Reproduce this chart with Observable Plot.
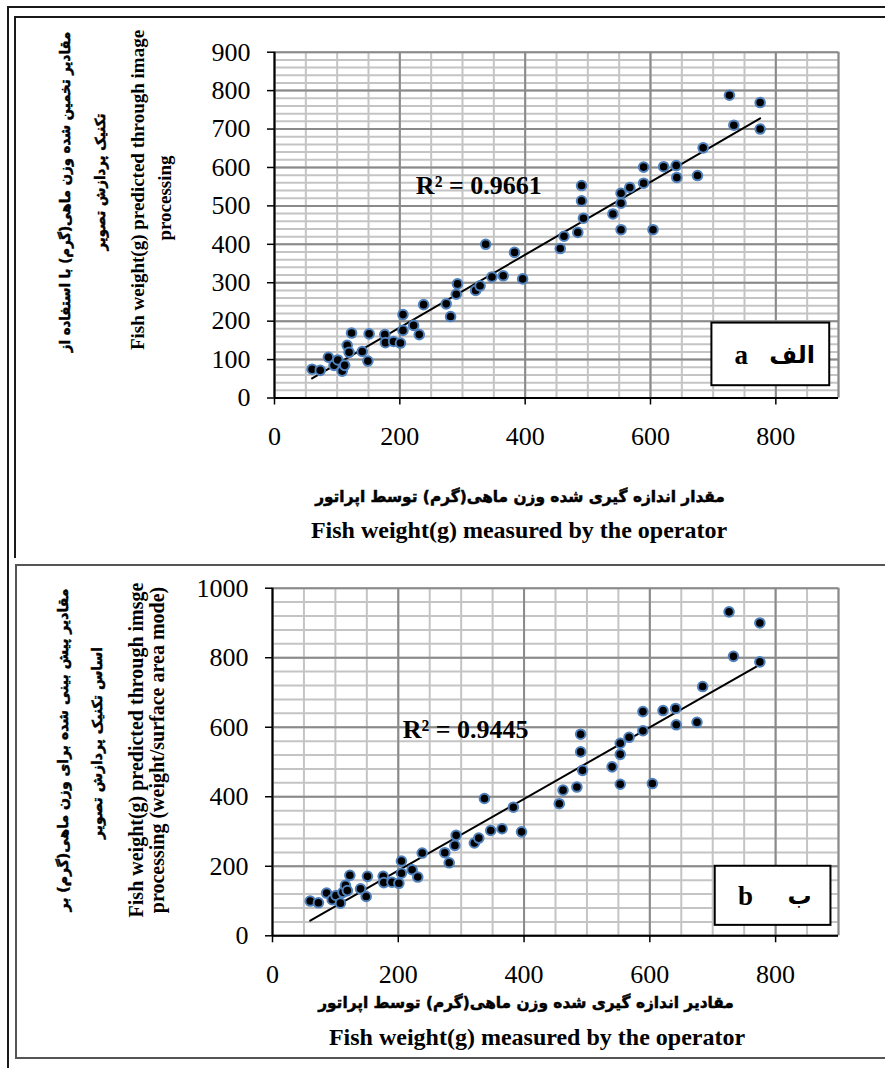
<!DOCTYPE html>
<html><head><meta charset="utf-8">
<script src="https://cdn.jsdelivr.net/npm/d3@7"></script>
<script src="https://cdn.jsdelivr.net/npm/@observablehq/plot@0.6"></script>
<style>
html,body{margin:0;padding:0;background:#fff;}
#page{position:relative;width:885px;height:1068px;overflow:hidden;background:#fff;font-family:"Liberation Serif","Times New Roman",serif;}
.ln{position:absolute;background:#1a1a1a;}
.t{position:absolute;white-space:nowrap;font-weight:bold;color:#000;line-height:1;}
.fa{font-family:"DejaVu Sans",sans-serif;direction:rtl;-webkit-text-stroke:0.5px #000;}
.en{font-family:"Liberation Serif","Times New Roman",serif;}
.chart{position:absolute;left:0;}
</style></head><body><div id="page"></div>
<script>
// ---- data ----
const weightMeasured = [60,73,86,95,101,108,112,116,119,123,140,149,151,176,177,190,201,205,205,222,231,238,274,281,290,292,321,328,337,347,365,383,396,456,462,484,490,490,493,540,553,553,553,567,589,589,604,621,641,642,675,684,726,733,775,775];
const predictedImage = [75,72,106,85,99,70,85,137,119,169,121,96,167,165,144,147,143,217,176,189,165,243,245,212,270,297,280,292,400,315,318,379,310,389,421,431,553,513,468,479,438,507,533,548,559,601,438,602,605,574,579,651,788,710,769,700];
const predictedArea = [100,95,123,104,116,94,125,145,130,174,135,113,171,171,153,154,151,215,180,190,169,238,239,210,260,289,267,281,395,303,308,370,299,380,419,428,580,529,476,486,436,522,554,571,590,645,438,648,654,607,614,717,932,804,900,788];

const xTicks = [0,200,400,600,800];
const yTicksTop = [0,100,200,300,400,500,600,700,800,900];
const yTicksBottom = [0,200,400,600,800,1000];

const r2Labels = ["R² = 0.9661", "R² = 0.9445"];
const panelLatin = ["a", "b"];
const panelPersian = ["الف", "ب"];

const SERIF = "Liberation Serif, serif";

// ---- builder ----
function chart({data, yMax, yTicks, yMinorStep, marginLeft, marginTop, height, marginBottom, r2, r2x, r2y, box, lat, latX, per, perX, boxY}) {
  const xMinor = d3.range(0, 901, 50);
  const yMinor = d3.range(0, yMax + 1, yMinorStep);
  return Plot.plot({
    width: 885, height, marginLeft, marginRight: 47, marginTop, marginBottom,
    x: {domain: [0, 900]},
    y: {domain: [0, yMax]},
    style: {fontFamily: SERIF, fontSize: "26px", background: "transparent", color: "black", overflow: "visible"},
    marks: [
      Plot.gridX(xMinor, {stroke: "#c4c4c4", strokeOpacity: 1, strokeWidth: 2}),
      Plot.gridY(yMinor, {stroke: "#c4c4c4", strokeOpacity: 1, strokeWidth: 2}),
      Plot.gridX(xTicks.concat([900]), {stroke: "#8a8a8a", strokeOpacity: 1, strokeWidth: 2}),
      Plot.gridY(yTicks, {stroke: "#8a8a8a", strokeOpacity: 1, strokeWidth: 2}),
      Plot.ruleX([0], {stroke: "black", strokeWidth: 2}),
      Plot.ruleY([0], {stroke: "black", strokeWidth: 2}),
      Plot.axisX({ticks: xTicks, tickSize: 7, label: null, strokeWidth: 1.5, tickFormat: () => ""}),
      Plot.axisY({ticks: yTicks, tickSize: 7, label: null, strokeWidth: 1.5, tickFormat: () => ""}),
      Plot.text(xTicks, {x: d => d, frameAnchor: "bottom", lineAnchor: "top", dy: 29, text: d => String(d), fontSize: 26, fontFamily: SERIF, fill: "black"}),
      Plot.text(yTicks, {y: d => d, frameAnchor: "left", textAnchor: "end", dx: -24, text: d => String(d), fontSize: 26, fontFamily: SERIF, fill: "black"}),
      Plot.rect([box], {x1: "x1", x2: "x2", y1: "y1", y2: "y2", fill: "white", stroke: "black", strokeWidth: 2}),
      Plot.text([lat], {x: () => latX, y: () => boxY, text: d => d, fontSize: 27, fontWeight: "bold", fontFamily: SERIF}),
      Plot.text([per], {x: () => perX, y: () => boxY, text: d => d, fontSize: 24, fontWeight: "bold", fontFamily: "DejaVu Sans, sans-serif"}),
      Plot.linearRegressionY(data, {x: "w", y: "p", ci: 0, stroke: "black", strokeWidth: 2}),
      Plot.dot(data, {x: "w", y: "p", r: 4.8, fill: "black", stroke: "#4f81bd", strokeWidth: 2}),
      Plot.text([r2], {x: () => r2x, y: () => r2y, text: d => d, fontSize: 26, fontWeight: "bold", fontFamily: SERIF})
    ]
  });
}

const page = document.getElementById("page");

const topData = weightMeasured.map((w, i) => ({w, p: predictedImage[i]}));
const botData = weightMeasured.map((w, i) => ({w, p: predictedArea[i]}));

const c1 = chart({data: topData, yMax: 900, yTicks: yTicksTop, yMinorStep: 20,
  marginLeft: 274, marginTop: 51.7, height: 470, marginBottom: 72.5,
  r2: r2Labels[0], r2x: 326, r2y: 552,
  box: {x1: 698, x2: 886, y1: 32, y2: 195}, lat: panelLatin[0], latX: 745, per: panelPersian[0], perX: 826, boxY: 112});
c1.classList.add("chart"); c1.style.top = "0px";
page.appendChild(c1);

const c2 = chart({data: botData, yMax: 1000, yTicks: yTicksBottom, yMinorStep: 40,
  marginLeft: 272, marginTop: 47.7, height: 480, marginBottom: 84.7,
  r2: r2Labels[1], r2x: 307, r2y: 594,
  box: {x1: 704, x2: 888, y1: 30, y2: 200}, lat: panelLatin[1], latX: 752, per: panelPersian[1], perX: 838, boxY: 114});
c2.classList.add("chart"); c2.style.top = "540px";
page.appendChild(c2);

// ---- frames ----
function line(l, t, w, h, c) {
  const d = document.createElement("div"); d.className = "ln";
  Object.assign(d.style, {left: l + "px", top: t + "px", width: w + "px", height: h + "px"});
  if (c) d.style.background = c;
  page.appendChild(d);
}
line(7, 6, 2, 1062);          // outer left
line(7, 6, 880, 2);           // outer top
line(14, 16, 1.5, 542);       // top panel inner left
line(14, 16, 875, 1.5);       // top panel inner top
line(15, 564, 870, 1.5, "#555"); // bottom panel top
line(15, 564, 1.5, 494, "#555"); // bottom panel left
line(15, 1057, 870, 1.5, "#555"); // bottom panel bottom

// ---- titles ----
function text(str, cls, x, y, size, rot, sx) {
  const d = document.createElement("div"); d.className = "t " + cls;
  d.textContent = str;
  Object.assign(d.style, {left: x + "px", top: y + "px", fontSize: size + "px",
    transform: "translate(-50%,-50%)" + (rot ? " rotate(-90deg)" : "") + " scaleX(" + (sx || 1) + ")"});
  page.appendChild(d);
}
text("مقادیر تخمین شده وزن ماهی(گرم) با استفاده از", "fa", 65, 192, 14, true, 0.95);
text("تکنیک پردازش تصویر", "fa", 100, 182, 14, true, 0.95);
text("Fish weight(g) predicted through image", "en", 137, 190, 19, true);
text("processing", "en", 164, 198, 19, true);
text("مقدار اندازه گیری شده وزن ماهی(گرم) توسط اپراتور", "fa", 520, 497, 16, false, 0.96);
text("Fish weight(g) measured by the operator", "en", 519, 530, 24);

text("مقادیر پیش بینی شده برای وزن ماهی(گرم) بر", "fa", 63, 750, 14, true);
text("اساس تکنیک پردازش تصویر", "fa", 97, 743, 14, true);
text("Fish weight(g) predicted through imsge", "en", 136, 750, 20, true);
text("processing (weight/surface area mode)", "en", 157, 750, 20, true);
text("مقادیر اندازه گیری شده وزن ماهی(گرم) توسط اپراتور", "fa", 526, 1003, 16, false, 0.96);
text("Fish weight(g) measured by the operator", "en", 537, 1037, 24);
</script>
</body></html>
